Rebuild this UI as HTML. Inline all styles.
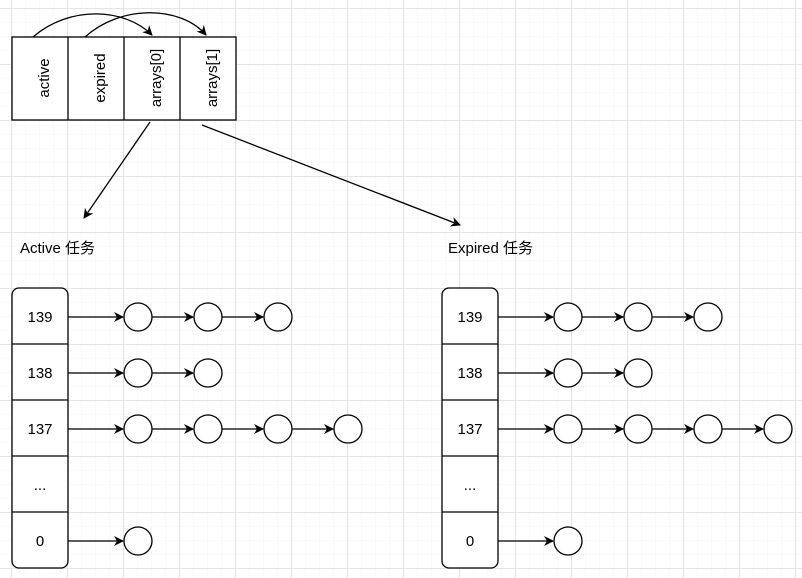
<!DOCTYPE html>
<html><head><meta charset="utf-8"><style>
html,body{margin:0;padding:0;background:#fff;}
svg{display:block;}
text{font-family:"Liberation Sans","Noto Sans CJK SC",sans-serif;fill:#000;}
</style></head><body>
<svg width="802" height="578" viewBox="0 0 802 578" xmlns="http://www.w3.org/2000/svg">
<defs>
<pattern id="minor" x="11" y="8" width="14" height="14" patternUnits="userSpaceOnUse"><path d="M0 0H14M0 0V14" stroke="#f4f4f4" stroke-width="1" fill="none"/></pattern>
<pattern id="major" x="11" y="8" width="56" height="56" patternUnits="userSpaceOnUse"><path d="M0 0.5H56M0.5 0V56" stroke="#e4e4e4" stroke-width="1" fill="none"/></pattern>
<marker id="ah" markerWidth="10" markerHeight="10" refX="9" refY="5" orient="auto" markerUnits="userSpaceOnUse"><path d="M0,0 L10,5 L0,10 L3,5 z" fill="#000"/></marker>
</defs>
<rect width="802" height="578" fill="url(#minor)"/>
<rect width="802" height="578" fill="url(#major)"/>

<g stroke="#000" stroke-width="1.3" fill="#fff">
<rect x="12" y="37" width="224" height="83"/>
<line x1="68" y1="37" x2="68" y2="120"/><line x1="124" y1="37" x2="124" y2="120"/><line x1="180" y1="37" x2="180" y2="120"/>
</g>
<g font-size="15" text-anchor="middle">
<text transform="translate(45,78) rotate(-90)" dominant-baseline="middle">active</text>
<text transform="translate(101,78) rotate(-90)" dominant-baseline="middle">expired</text>
<text transform="translate(157,78) rotate(-90)" dominant-baseline="middle">arrays[0]</text>
<text transform="translate(213,78) rotate(-90)" dominant-baseline="middle">arrays[1]</text>
</g>
<g stroke="#000" stroke-width="1.3" fill="none" marker-end="url(#ah)">
<path d="M33,37 C70,5 125,8 152,35"/>
<path d="M85,37 C120,5 180,5 206,35"/>
<line x1="150" y1="122" x2="84" y2="218"/>
<line x1="202" y1="125" x2="460" y2="225"/>
</g>
<text x="20" y="253" font-size="15">Active 任务</text>
<text x="448" y="253" font-size="15">Expired 任务</text>

<g id="tbl">
<rect x="12" y="288" width="56" height="280" rx="7" fill="#fff" stroke="#000" stroke-width="1.3"/>
<g stroke="#000" stroke-width="1.3"><line x1="12" y1="344" x2="68" y2="344"/><line x1="12" y1="400" x2="68" y2="400"/><line x1="12" y1="456" x2="68" y2="456"/><line x1="12" y1="512" x2="68" y2="512"/></g>
<g font-size="15" text-anchor="middle">
<text x="40" y="322">139</text><text x="40" y="378">138</text><text x="40" y="434">137</text><text x="40" y="490">...</text><text x="40" y="546">0</text>
</g>
<g stroke="#000" stroke-width="1.3" marker-end="url(#ah)">
<line x1="68" y1="317" x2="123" y2="317"/><line x1="152" y1="317" x2="193" y2="317"/><line x1="222" y1="317" x2="263" y2="317"/>
<line x1="68" y1="373" x2="123" y2="373"/><line x1="152" y1="373" x2="193" y2="373"/>
<line x1="68" y1="429" x2="123" y2="429"/><line x1="152" y1="429" x2="193" y2="429"/><line x1="222" y1="429" x2="263" y2="429"/><line x1="292" y1="429" x2="333" y2="429"/>
<line x1="68" y1="541" x2="123" y2="541"/>
</g>
<g stroke="#000" stroke-width="1.3" fill="#fff">
<circle cx="138" cy="317" r="14"/><circle cx="208" cy="317" r="14"/><circle cx="278" cy="317" r="14"/>
<circle cx="138" cy="373" r="14"/><circle cx="208" cy="373" r="14"/>
<circle cx="138" cy="429" r="14"/><circle cx="208" cy="429" r="14"/><circle cx="278" cy="429" r="14"/><circle cx="348" cy="429" r="14"/>
<circle cx="138" cy="541" r="14"/>
</g>
</g>
<use href="#tbl" x="430"/>
</svg>
</body></html>
